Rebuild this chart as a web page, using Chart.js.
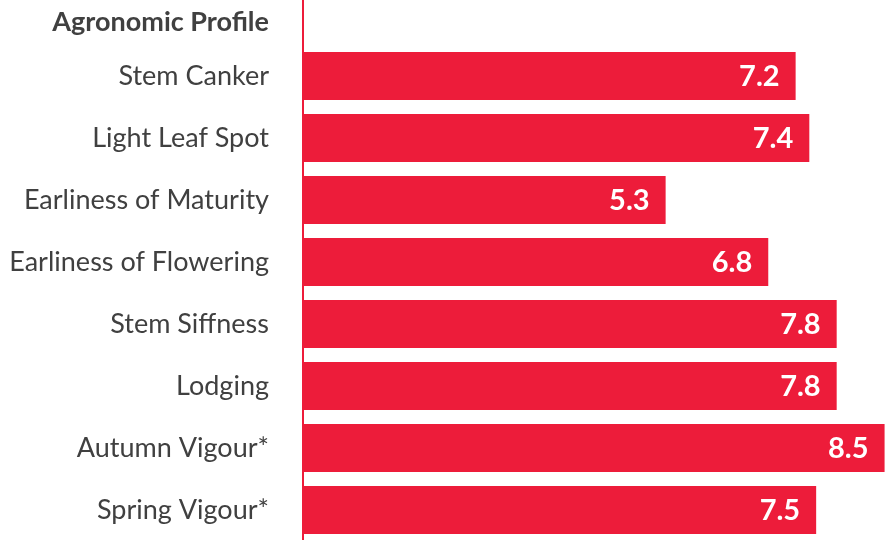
<!DOCTYPE html>
<html>
<head>
<meta charset="utf-8">
<script src="https://cdn.jsdelivr.net/npm/chart.js@4.4.1/dist/chart.umd.min.js"></script>
<style>
  html, body { margin: 0; padding: 0; width: 888px; height: 540px; overflow: hidden; background: #ffffff; }
  #wrap { position: absolute; left: 0; top: -17px; width: 888px; height: 558px; }
</style>
</head>
<body>
<div id="wrap"><canvas id="c"></canvas></div>
<script>
const categories = [
  "Agronomic Profile",
  "Stem Canker",
  "Light Leaf Spot",
  "Earliness of Maturity",
  "Earliness of Flowering",
  "Stem Siffness",
  "Lodging",
  "Autumn Vigour*",
  "Spring Vigour*"
];
const scores = [null, 7.2, 7.4, 5.3, 6.8, 7.8, 7.8, 8.5, 7.5];
const scoreLabels = ["", "7.2", "7.4", "5.3", "6.8", "7.8", "7.8", "8.5", "7.5"];

const RED = "#ED1C3A";
const TEXT = "#404040";
const FONT = "Lato, 'Open Sans', sans-serif";

const valueLabels = {
  id: "valueLabels",
  afterDatasetsDraw(chart) {
    const ctx = chart.ctx;
    const meta = chart.getDatasetMeta(0);
    ctx.save();
    ctx.fillStyle = "#ffffff";
    ctx.font = "bold 29px " + FONT;
    ctx.textAlign = "right";
    ctx.textBaseline = "middle";
    meta.data.forEach((bar, i) => {
      if (scores[i] == null) return;
      ctx.fillText(scoreLabels[i], bar.x - 16, bar.y + 1);
    });
    // header category label, nudged down into view
    const yScale = chart.scales.y;
    ctx.fillStyle = TEXT;
    ctx.font = "bold 27px " + FONT;
    ctx.fillText(categories[0], yScale.right - 34, yScale.getPixelForValue(0) + 8);
    ctx.restore();
  }
};

new Chart(document.getElementById("c"), {
  type: "bar",
  data: {
    labels: categories,
    datasets: [{
      data: scores,
      backgroundColor: RED,
      borderWidth: 0,
      barPercentage: 0.774,
      categoryPercentage: 1.0
    }]
  },
  options: {
    indexAxis: "y",
    responsive: true,
    animation: false,
    maintainAspectRatio: false,
    layout: { padding: 0 },
    plugins: { legend: { display: false }, tooltip: { enabled: false } },
    scales: {
      x: {
        display: false,
        min: 0,
        max: 8.55
      },
      y: {
        afterFit: (scale) => { scale.width = 303; scale.paddingTop = 0; scale.paddingBottom = 0; },
        grid: { display: false, drawTicks: false },
        border: { display: true, color: RED, width: 2 },
        ticks: {
          padding: 34,
          autoSkip: false,
          color: (c) => (c.index === 0 ? "rgba(0,0,0,0)" : TEXT),
          font: (c) => ({ family: FONT, size: 27, weight: c.index === 0 ? "bold" : "normal" })
        }
      }
    }
  },
  plugins: [valueLabels]
});
</script>
</body>
</html>
